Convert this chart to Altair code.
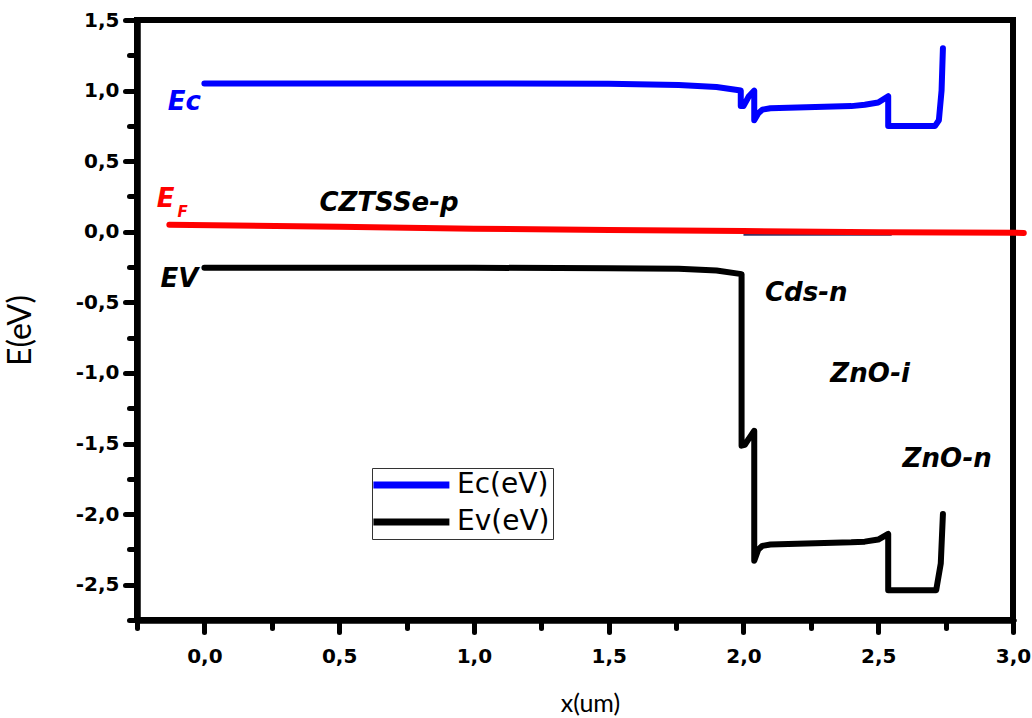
import altair as alt
import pandas as pd

# ---- data ----
ec_x = [0.0, 0.5, 1.0, 1.5, 1.76, 1.9, 1.99, 1.99, 2.0, 2.02, 2.04, 2.04, 2.055, 2.07, 2.1, 2.2, 2.3, 2.4, 2.45, 2.5, 2.537, 2.537, 2.6, 2.711, 2.725, 2.735, 2.74]
ec_y = [1.05, 1.05, 1.05, 1.048, 1.04, 1.025, 1.0, 0.89, 0.89, 0.96, 1.0, 0.79, 0.84, 0.865, 0.875, 0.88, 0.885, 0.89, 0.9, 0.915, 0.96, 0.75, 0.75, 0.75, 0.79, 1.0, 1.30]

ev_x = [0.0, 0.5, 1.0, 1.5, 1.76, 1.9, 1.993, 1.993, 2.005, 2.02, 2.04, 2.04, 2.055, 2.07, 2.1, 2.2, 2.3, 2.4, 2.45, 2.5, 2.537, 2.537, 2.6, 2.715, 2.732, 2.74]
ev_y = [-0.255, -0.255, -0.255, -0.258, -0.262, -0.275, -0.30, -1.515, -1.51, -1.465, -1.41, -2.33, -2.25, -2.225, -2.215, -2.21, -2.205, -2.2, -2.195, -2.18, -2.14, -2.54, -2.54, -2.54, -2.35, -2.0]

ef_x = [-0.13, 0.5, 1.0, 1.5, 2.0, 2.5, 3.04]
ef_y = [0.05, 0.035, 0.022, 0.012, 0.005, -0.003, -0.008]

hid_x = [2.0, 2.55]
hid_y = [-0.022, -0.022]

series_names = ["Ec(eV)", "Ev(eV)", "EF"]
series_colors = ["#0000FF", "#000000", "#FF0000"]

ann_text = ["CZTSSe-p", "Cds-n", "ZnO-i", "ZnO-n"]
ann_x = [0.685, 2.233, 2.47, 2.756]
ann_y = [0.205, -0.432, -1.005, -1.607]

lab_text = ["Ec", "EV", "E", "F"]
lab_x = [-0.074, -0.093, -0.144, -0.081]
lab_y = [0.92, -0.333, 0.234, 0.142]
lab_color = ["#0000FF", "#000000", "#FF0000", "#FF0000"]
lab_size = [26, 26, 26, 15]

x_major = [0.5 * k for k in range(7)]
x_minor = [-0.25 + 0.5 * k for k in range(7)]
y_major = [-2.5 + 0.5 * k for k in range(9)]
y_minor = [-2.75 + 0.5 * k for k in range(9)]

# ---- tables ----
rows = []
for name, xs, ys in [("Ec(eV)", ec_x, ec_y), ("Ev(eV)", ev_x, ev_y), ("EF", ef_x, ef_y)]:
    for i, (a, b) in enumerate(zip(xs, ys)):
        rows.append({"series": name, "x": a, "y": b, "i": i})
df = pd.DataFrame(rows)
hid = pd.DataFrame({"x": hid_x, "y": hid_y, "i": list(range(len(hid_x)))})
ann = pd.DataFrame({"t": ann_text, "x": ann_x, "y": ann_y})
labs = pd.DataFrame({"t": lab_text, "x": lab_x, "y": lab_y, "c": lab_color, "s": lab_size})

lab_expr = "replace(replace(format(datum.value, '.1f'), '.', ','), '\u2212', '-')"

xscale = alt.Scale(domain=[-0.25, 3.0], nice=False, zero=False)
yscale = alt.Scale(domain=[-2.75, 1.5], nice=False, zero=False)

common = dict(grid=False, domainColor="black", domainWidth=6, domainCap="round",
              tickColor="black", tickWidth=5, tickCap="round")

xaxis = alt.Axis(values=x_major, labelExpr=lab_expr, tickSize=12, orient="bottom",
                 title="x(um)", titleX=453, titleY=83, titleBaseline="middle",
                 titleFont="Lato", titleFontSize=25, titleFontWeight="normal", titleColor="black",
                 labelFont="DejaVu Sans", labelFontWeight="bold", labelFontSize=20,
                 labelPadding=14, labelColor="black", labelFlush=False, labelOverlap=False,
                 **common)
yaxis = alt.Axis(values=y_major, labelExpr=lab_expr, tickSize=12, orient="left",
                 title="E(eV)", titleX=-117, titleY=310, titleAngle=-90, titleBaseline="middle",
                 titleAlign="center",
                 titleFont="Lato", titleFontSize=32, titleFontWeight="normal", titleColor="black",
                 labelFont="DejaVu Sans", labelFontWeight="bold", labelFontSize=20,
                 labelPadding=6, labelColor="black", labelFlush=False, labelOverlap=False,
                 **common)
xminor = alt.Axis(values=x_minor, labels=False, title=None, tickSize=8, orient="bottom",
                  **common)
yminor = alt.Axis(values=y_minor, labels=False, title=None, tickSize=8, orient="left",
                  **common)

hidden = alt.Chart(hid).mark_line(color="#333366", strokeWidth=2).encode(
    x=alt.X("x:Q", scale=xscale, axis=xminor),
    y=alt.Y("y:Q", scale=yscale, axis=yminor),
    order="i:Q",
)

lines = alt.Chart(df).mark_line(strokeWidth=6, strokeCap="round", strokeJoin="round").encode(
    x=alt.X("x:Q", scale=xscale, axis=xaxis),
    y=alt.Y("y:Q", scale=yscale, axis=yaxis),
    color=alt.Color("series:N", sort=series_names,
                    scale=alt.Scale(domain=series_names, range=series_colors),
                    legend=alt.Legend(values=["Ec(eV)", "Ev(eV)"], title=None, orient="none",
                                      legendX=235, legendY=448, padding=3,
                                      strokeColor="#333333", fillColor="white",
                                      symbolType="M-1,0H9", symbolSize=231, symbolOffset=-8,
                                      symbolStrokeWidth=7, labelFont="DejaVu Sans",
                                      labelFontSize=28, labelColor="black", labelLimit=400,
                                      labelOffset=62, rowPadding=9)),
    detail="series:N",
    order="i:Q",
)

anns = alt.Chart(ann).mark_text(font="DejaVu Sans", fontWeight="bold", fontStyle="italic",
                                fontSize=26, color="black", align="center",
                                baseline="middle").encode(
    x=alt.X("x:Q", axis=None), y=alt.Y("y:Q", axis=None), text="t:N")

labels = alt.Chart(labs).mark_text(font="DejaVu Sans", fontWeight="bold", fontStyle="italic",
                                   align="center", baseline="middle").encode(
    x=alt.X("x:Q", axis=None), y=alt.Y("y:Q", axis=None), text="t:N",
    color=alt.Color("c:N", scale=None),
    size=alt.Size("s:Q", scale=None),
)

chart = alt.layer(hidden, lines, anns, labels).resolve_axis(
    x="independent", y="independent"
).properties(
    width=876, height=600, autosize="none",
    padding={"left": 137, "top": 20, "right": 19, "bottom": 98},
).configure_view(stroke="black", strokeWidth=6)

chart.save("out.html", embed_options={"renderer": "svg", "actions": False})
